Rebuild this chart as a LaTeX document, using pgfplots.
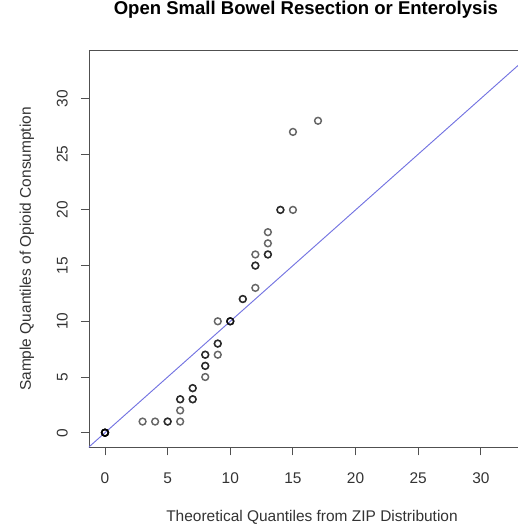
\documentclass[border=0pt]{standalone}
\usepackage{pgfplots}
\pgfplotsset{compat=1.18}
\usepackage{fontspec}
\setmainfont{Liberation Sans}
\definecolor{qqblue}{RGB}{115,115,225}
\definecolor{axgray}{RGB}{80,80,80}
\begin{document}
\begin{tikzpicture}
\begin{axis}[
  name=ax,
  scale only axis,
  width=321.75pt, height=297.45pt,
  xmin=-1.277, xmax=32.96,
  ymin=-1.31, ymax=34.29,
  axis x line*=box, axis y line*=left,
  xtick={0,5,...,30}, ytick={0,5,...,30},
  xtick pos=bottom, ytick pos=left,
  tick align=outside,
  major tick length=6pt,
  axis line style={axgray, line width=0.7pt},
  tick style={axgray, line width=0.7pt},
  /pgf/number format/assume math mode=true,
  tick label style={font=\fontsize{11.6}{13}\selectfont, text=black!80},
  xticklabel style={anchor=base, yshift=-21pt},
  yticklabel style={xshift=-10pt, anchor=base, rotate=90},
  xlabel={Theoretical Quantiles from ZIP Distribution},
  ylabel={Sample Quantiles of Opioid Consumption},
  xlabel style={at={(rel axis cs:0.5198,-0.1871)}, anchor=base, font=\fontsize{11.6}{13}\selectfont, text=black!80},
  ylabel style={at={(rel axis cs:-0.1352,0.5)}, anchor=base, font=\fontsize{11.6}{13}\selectfont, text=black!80},
  every axis title shift=0pt,
  title={Open Small Bowel Resection or Enterolysis},
  title style={at={(rel axis cs:0.5056,1.0915)}, anchor=base, font=\fontsize{13.9}{16}\selectfont\bfseries},
]
% sorted theoretical vs sorted sample quantiles (repeats overlap)
\addplot[only marks, mark=o, mark size=2.55pt,
  mark options={draw=black, draw opacity=0.6, line width=1.1pt}]
coordinates {
  (0,0)(0,0)(0,0)(0,0)(0,0)
  (3,1)(4,1)(5,1)(5,1)(6,1)(6,2)(6,3)(6,3)
  (7,3)(7,3)(7,4)(7,4)
  (8,5)(8,6)(8,6)(8,7)(8,7)
  (9,7)(9,8)(9,8)(9,10)
  (10,10)(10,10)(10,10)
  (11,12)(11,12)(12,13)(12,15)(12,15)(12,16)
  (13,16)(13,16)(13,17)(13,18)
  (14,20)(14,20)(15,20)(15,27)(17,28)
};
\addplot[qqblue, line width=0.7pt] coordinates {(-5,-5)(40,40)};
\end{axis}
\pgfresetboundingbox
\path[use as bounding box] ([xshift=-66.75pt, yshift=-59.78pt]ax.south west) rectangle ([yshift=38.03pt]ax.north east);
\end{tikzpicture}
\end{document}
